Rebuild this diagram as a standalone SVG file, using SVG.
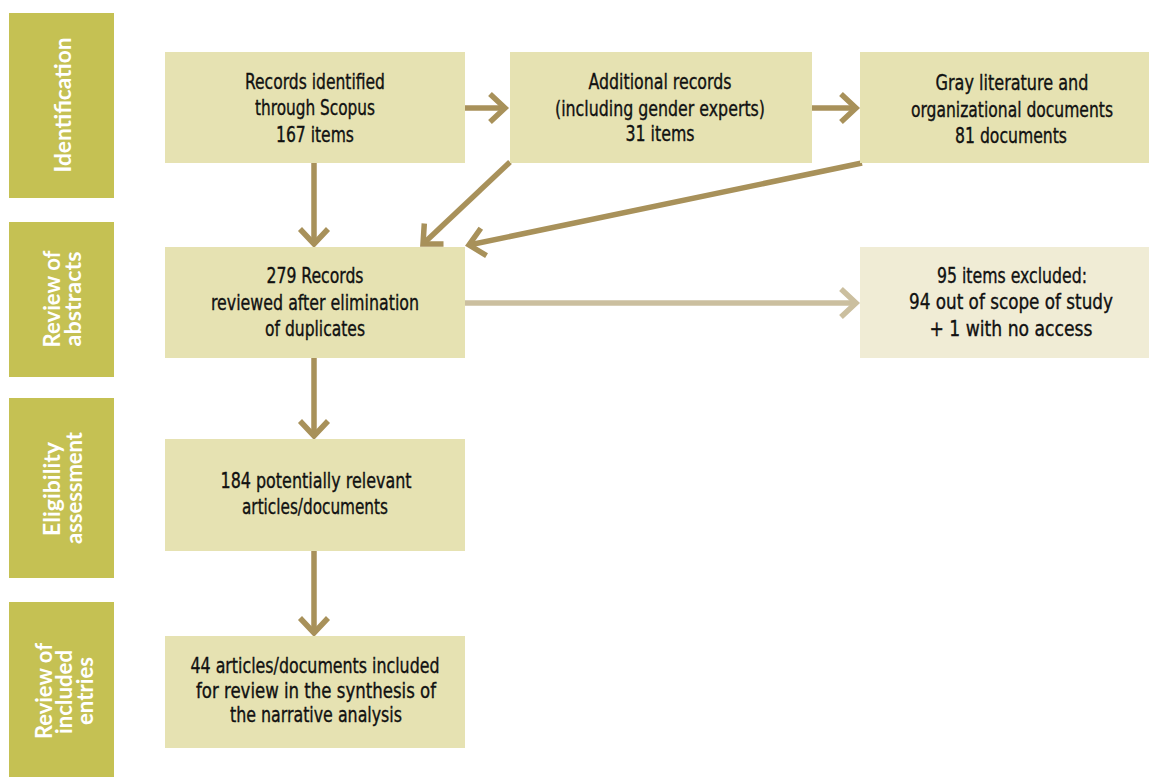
<svg xmlns="http://www.w3.org/2000/svg" width="1149" height="777" viewBox="0 0 1149 777">
<style>
.stage{fill:#c5c153}
.box{fill:#e6e2b2}
.box2{fill:#f0ecd5}
.st{font-family:Lato,"Open Sans","Liberation Sans",sans-serif;font-weight:bold;font-size:22px;fill:#ffffff;text-anchor:middle}
.tx{font-family:"Liberation Sans Narrow","DejaVu Sans Condensed",Lato,"Liberation Sans",sans-serif;font-size:21px;fill:#111111;stroke:#111111;stroke-width:0.35;text-anchor:middle}
.ar{fill:none;stroke:#a8915a;stroke-width:5.5}
.arl{fill:none;stroke:#cbbf9f;stroke-width:5.5}
</style>
<defs>
<marker id="ah" markerUnits="userSpaceOnUse" viewBox="-25 -25 50 50" markerWidth="50" markerHeight="50" refX="0" refY="0" orient="auto">
<path d="M-15,-14 L0,0 L-15,14" fill="none" stroke="#a8915a" stroke-width="5.5"/>
</marker>
<marker id="ahl" markerUnits="userSpaceOnUse" viewBox="-25 -25 50 50" markerWidth="50" markerHeight="50" refX="0" refY="0" orient="auto">
<path d="M-15,-14 L0,0 L-15,14" fill="none" stroke="#cbbf9f" stroke-width="5.5"/>
</marker>
</defs>
<rect width="1149" height="777" fill="#ffffff"/>

<g id="stage-identification">
<rect class="stage" x="9" y="13" width="105" height="185"/>
<text class="st" transform="translate(71,105) rotate(-90)" textLength="135" lengthAdjust="spacingAndGlyphs">Identification</text>
</g>
<g id="stage-abstracts">
<rect class="stage" x="9" y="222" width="105" height="155"/>
<text class="st" transform="translate(60,299) rotate(-90)" textLength="97" lengthAdjust="spacingAndGlyphs">Review of</text>
<text class="st" transform="translate(81,299) rotate(-90)" textLength="95" lengthAdjust="spacingAndGlyphs">abstracts</text>
</g>
<g id="stage-eligibility">
<rect class="stage" x="9" y="398" width="105" height="180"/>
<text class="st" transform="translate(60,489) rotate(-90)" textLength="94" lengthAdjust="spacingAndGlyphs">Eligibility</text>
<text class="st" transform="translate(82,488) rotate(-90)" textLength="112" lengthAdjust="spacingAndGlyphs">assessment</text>
</g>
<g id="stage-included">
<rect class="stage" x="9" y="602" width="105" height="175"/>
<text class="st" transform="translate(52,691) rotate(-90)" textLength="96" lengthAdjust="spacingAndGlyphs">Review of</text>
<text class="st" transform="translate(72,692) rotate(-90)" textLength="84" lengthAdjust="spacingAndGlyphs">included</text>
<text class="st" transform="translate(93,691) rotate(-90)" textLength="68" lengthAdjust="spacingAndGlyphs">entries</text>
</g>

<g id="connectors">
<line class="ar" x1="465" y1="108" x2="505" y2="108" marker-end="url(#ah)"/>
<line class="ar" x1="812" y1="108" x2="856" y2="108" marker-end="url(#ah)"/>
<line class="ar" x1="314" y1="163" x2="314" y2="244" marker-end="url(#ah)"/>
<line class="ar" x1="510" y1="162" x2="423" y2="244" marker-end="url(#ah)"/>
<line class="ar" x1="862" y1="163" x2="469" y2="245" marker-end="url(#ah)"/>
<line class="arl" x1="465" y1="303" x2="856" y2="303" marker-end="url(#ahl)"/>
<line class="ar" x1="314" y1="358" x2="314" y2="436" marker-end="url(#ah)"/>
<line class="ar" x1="314" y1="551" x2="314" y2="633" marker-end="url(#ah)"/>
</g>

<g id="node-scopus">
<rect class="box" x="165" y="52" width="300" height="111"/>
<text class="tx" x="315" y="89" textLength="140" lengthAdjust="spacingAndGlyphs">Records identified</text>
<text class="tx" x="315" y="115" textLength="120" lengthAdjust="spacingAndGlyphs">through Scopus</text>
<text class="tx" x="315" y="142" textLength="78" lengthAdjust="spacingAndGlyphs">167 items</text>
</g>
<g id="node-additional">
<rect class="box" x="510" y="52" width="302" height="111"/>
<text class="tx" x="660" y="89" textLength="143" lengthAdjust="spacingAndGlyphs">Additional records</text>
<text class="tx" x="660" y="116" textLength="210" lengthAdjust="spacingAndGlyphs">(including gender experts)</text>
<text class="tx" x="660" y="141" textLength="69" lengthAdjust="spacingAndGlyphs">31 items</text>
</g>
<g id="node-gray">
<rect class="box" x="860" y="52" width="289" height="111"/>
<text class="tx" x="1012" y="90" textLength="153" lengthAdjust="spacingAndGlyphs">Gray literature and</text>
<text class="tx" x="1012" y="117" textLength="202" lengthAdjust="spacingAndGlyphs">organizational documents</text>
<text class="tx" x="1011" y="143" textLength="112" lengthAdjust="spacingAndGlyphs">81 documents</text>
</g>
<g id="node-reviewed">
<rect class="box" x="165" y="247" width="300" height="111"/>
<text class="tx" x="315" y="283" textLength="97" lengthAdjust="spacingAndGlyphs">279 Records</text>
<text class="tx" x="315" y="310" textLength="208" lengthAdjust="spacingAndGlyphs">reviewed after elimination</text>
<text class="tx" x="315" y="336" textLength="100" lengthAdjust="spacingAndGlyphs">of duplicates</text>
</g>
<g id="node-excluded">
<rect class="box2" x="860" y="247" width="289" height="111"/>
<text class="tx" x="1012" y="283" textLength="150" lengthAdjust="spacingAndGlyphs">95 items excluded:</text>
<text class="tx" x="1011" y="309" textLength="204" lengthAdjust="spacingAndGlyphs">94 out of scope of study</text>
<text class="tx" x="1011" y="336" textLength="163" lengthAdjust="spacingAndGlyphs">+ 1 with no access</text>
</g>
<g id="node-relevant">
<rect class="box" x="165" y="439" width="300" height="112"/>
<text class="tx" x="316" y="488" textLength="191" lengthAdjust="spacingAndGlyphs">184 potentially relevant</text>
<text class="tx" x="315" y="514" textLength="146" lengthAdjust="spacingAndGlyphs">articles/documents</text>
</g>
<g id="node-included">
<rect class="box" x="165" y="636" width="300" height="112"/>
<text class="tx" x="315" y="673" textLength="249" lengthAdjust="spacingAndGlyphs">44 articles/documents included</text>
<text class="tx" x="316" y="698" textLength="240" lengthAdjust="spacingAndGlyphs">for review in the synthesis of</text>
<text class="tx" x="316" y="722" textLength="172" lengthAdjust="spacingAndGlyphs">the narrative analysis</text>
</g>
</svg>
